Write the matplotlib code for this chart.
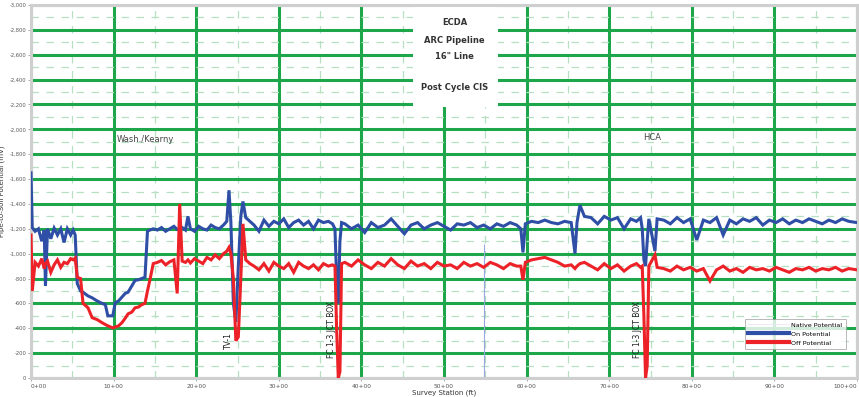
import matplotlib
matplotlib.use("Agg")
import matplotlib.pyplot as plt
from matplotlib.ticker import MultipleLocator, FuncFormatter
from matplotlib.patches import Rectangle
from matplotlib.lines import Line2D

# ---------------- data ----------------
station_ft = [
    0, 15, 50, 90, 130, 160, 175, 200, 240, 280, 320, 360, 400, 440, 480,
    510, 535, 560, 600, 630, 690, 740, 800, 860, 900, 930, 990, 1020, 1060,
    1100, 1140, 1175, 1220, 1260, 1300, 1340, 1380, 1410, 1440, 1480,
    1530, 1580, 1630, 1680, 1730, 1770, 1800, 1830, 1870, 1900, 1930, 1980,
    2030, 2080, 2130, 2180, 2230, 2280, 2330, 2370,
    2397, 2420, 2450, 2480, 2510, 2540, 2566, 2600, 2650,
    2700, 2760, 2820, 2880, 2940, 3000, 3060, 3120, 3180, 3240, 3300, 3360,
    3420, 3480, 3540, 3600, 3650,
    3680, 3700, 3720, 3740, 3760,
    3800, 3880, 3960, 4040, 4120, 4200, 4280, 4360, 4440, 4520, 4600, 4680,
    4760, 4840, 4920, 5000, 5080, 5160, 5240, 5320, 5400, 5480, 5560, 5640,
    5720, 5800, 5880,
    5930, 5956, 5985,
    6060, 6140, 6220, 6300, 6380, 6460, 6540, 6586, 6610, 6646, 6700,
    6780, 6860, 6940, 7020, 7100, 7180, 7260, 7330, 7380,
    7400, 7420, 7440, 7460, 7480, 7554, 7580,
    7660, 7740, 7820, 7900, 7980, 8060, 8140, 8220, 8300, 8380, 8460, 8540,
    8620, 8700, 8780, 8860, 8940, 9020, 9100, 9180, 9260, 9340, 9420, 9500,
    9580, 9660, 9740, 9820, 9900, 10000,
]

on_mv = [
    -1650, -1210, -1180, -1200, -1100, -1190, -740, -1200, -1120, -1205, -1150, -1200, -1090, -1200, -1150,
    -1190, -1150, -760, -700, -690, -660, -645, -620, -600, -590, -500, -500, -605, -620,
    -650, -680, -690, -740, -785, -790, -800, -810, -1180, -1190, -1200,
    -1190, -1210, -1180, -1200, -1220, -1195, -1200, -1210, -1190, -1300, -1200, -1180,
    -1220, -1200, -1190, -1230, -1210, -1200, -1230, -1260,
    -1510, -1250, -600, -450, -900, -1300, -1420, -1290, -1260,
    -1230, -1180, -1270, -1220, -1260, -1240, -1280, -1210, -1250, -1270, -1230, -1260,
    -1200, -1270, -1250, -1260, -1240,
    -1200, -800, -600, -1100, -1250,
    -1240, -1200, -1230, -1170, -1250, -1210, -1230, -1280, -1220, -1160, -1230, -1250,
    -1200, -1230, -1250, -1220, -1190, -1240, -1230, -1250, -1210, -1230, -1200, -1240,
    -1220, -1250, -1230,
    -1200, -1010, -1240,
    -1260, -1250, -1270, -1250, -1240, -1260, -1250, -1000, -1250, -1390, -1300,
    -1290, -1240, -1300, -1270, -1290, -1200, -1280, -1260, -1290,
    -1200, -950, -900, -1100, -1280, -1020, -1280,
    -1270, -1240, -1290, -1250, -1280, -1110, -1270, -1250, -1290, -1150, -1270, -1240,
    -1280, -1260, -1290, -1230, -1270, -1250, -1280, -1240, -1270, -1250, -1280, -1260,
    -1240, -1270, -1250, -1280, -1260, -1250,
]

off_mv = [
    -1150, -700, -930, -900, -960, -880, -920, -940, -850, -910, -950, -890, -930, -920, -960,
    -950, -965, -810, -800, -600, -565, -485, -470, -445, -430, -420, -403, -410, -420,
    -444, -480, -516, -530, -565, -570, -590, -600, -700, -790, -920,
    -930, -945, -910, -935, -950, -680, -1400, -940, -930, -950, -925, -960,
    -940, -920, -970, -950, -990, -960, -1000, -1020,
    -1050, -1000, -800, -300, -330, -800, -1240, -950, -920,
    -900, -870, -920, -860, -930, -900, -880, -920, -850, -930, -900, -880,
    -910, -870, -920, -900, -910,
    -900, -400, 0, -50, -920,
    -930, -900, -950, -910, -880, -930, -900, -960, -910, -880, -940, -900,
    -920, -880, -930, -900, -910, -880, -930, -900, -920, -890, -930, -910,
    -880, -920, -900,
    -900, -790, -930,
    -950, -960, -970, -950, -930, -900, -910, -880, -900, -920, -930,
    -900, -870, -920, -880, -910, -860, -900, -920, -890,
    -900, -500, 0, -100, -900, -990, -890,
    -880, -860, -900, -870, -890, -860, -880, -780, -870, -900, -860, -880,
    -850, -890, -870, -880, -860, -890, -870, -850, -880, -870, -890, -860,
    -880, -870, -890, -860, -880, -870,
]

marker_station = [5484]
marker_top_mv = [-1080]
marker_bottom_mv = [0]

station_ticks = [0, 1000, 2000, 3000, 4000, 5000, 6000, 7000, 8000, 9000, 10000]
station_labels = ["0+00", "10+00", "20+00", "30+00", "40+00", "50+00",
                  "60+00", "70+00", "80+00", "90+00", "100+00"]

title_lines = ["ECDA", "ARC Pipeline", "16\" Line", "", "Post Cycle CIS"]

# ---------------- figure ----------------
fig = plt.figure(figsize=(8.59, 3.97), dpi=100)
ax = fig.add_axes([31 / 859, 1 - 378 / 397, 826 / 859, 373 / 397])

ax.set_xlim(0, 10000)
ax.set_ylim(0, -3000)

ax.xaxis.set_major_locator(MultipleLocator(1000))
ax.xaxis.set_minor_locator(MultipleLocator(500))
ax.yaxis.set_major_locator(MultipleLocator(200))
ax.yaxis.set_minor_locator(MultipleLocator(100))
ax.set_xticks(station_ticks)
ax.set_xticklabels(station_labels)
ax.yaxis.set_major_formatter(FuncFormatter(lambda v, p: f"{int(v):,}"))
xt = ax.get_xticklabels()
xt[-1].set_ha("right")
xt[0].set_ha("left")

ax.grid(which="major", color="#1ea64b", lw=2.2, zorder=0)
ax.grid(which="minor", color="#b6e0c1", lw=0.9, linestyle=(0, (6, 6)), zorder=0)
ax.set_axisbelow(True)

ax.tick_params(which="both", labelsize=4.2, labelcolor="#555555",
               length=2, width=0.5, color="#888888", pad=2)
ax.tick_params(axis="y", labelsize=3.7, pad=1.5)
ax.tick_params(which="minor", length=0)

for s in ax.spines.values():
    s.set_color("#cfcfcf")
    s.set_linewidth(2.2)

# marker line
ax.vlines(marker_station, marker_top_mv, marker_bottom_mv,
          color="#9aa6e0", lw=0.8, zorder=2)

ax.plot(station_ft, on_mv, color="#2f4fa6", lw=2.2, zorder=3,
        solid_joinstyle="miter")
ax.plot(station_ft, off_mv, color="#ec2228", lw=2.2, zorder=4,
        solid_joinstyle="miter")

# title box
ax.add_patch(Rectangle((0.462, 0.727), 0.103, 0.28, transform=ax.transAxes,
                       facecolor="white", edgecolor="none", zorder=2.5,
                       clip_on=False))
for txt, yy in zip(title_lines, [0.954, 0.906, 0.861, 0.82, 0.780]):
    ax.text(0.513, yy, txt, transform=ax.transAxes, ha="center", va="center",
            fontsize=6, fontweight="bold", color="#333333", zorder=5)

# region annotations
ax.text((145 - 31) / 826, 1 - (139 - 5) / 373, "Wash./Kearny",
        transform=ax.transAxes, ha="center", va="center", fontsize=6,
        color="#444444", zorder=5)
ax.text((652 - 31) / 826, 1 - (137 - 5) / 373, "HCA",
        transform=ax.transAxes, ha="center", va="center", fontsize=6,
        color="#444444", zorder=5)

# feature labels (rotated)
ax.text((228 - 31) / 826, 1 - (341 - 5) / 373, "TV-1", transform=ax.transAxes,
        rotation=90, ha="center", va="center", fontsize=5.5, color="#222222",
        zorder=5)
ax.text((331 - 31) / 826, 1 - (330 - 5) / 373, "FC 1-3 JCT BOX",
        transform=ax.transAxes, rotation=90, ha="center", va="center",
        fontsize=5.5, color="#222222", zorder=5)
ax.text((637 - 31) / 826, 1 - (330 - 5) / 373, "FC 1-3 JCT BOX",
        transform=ax.transAxes, rotation=90, ha="center", va="center",
        fontsize=5.5, color="#222222", zorder=5)

ax.set_ylabel("Pipe-to-Soil Potential (mV)", fontsize=5, color="#333333")
ax.yaxis.set_label_coords((5 - 31) / 826, 0.5)
ax.set_xlabel("Survey Station (ft)", fontsize=5, color="#333333", labelpad=1)

handles = [
    Line2D([], [], color="#e6e8f5", lw=0.6),
    Line2D([], [], color="#2f4fa6", lw=3),
    Line2D([], [], color="#ec2228", lw=3),
]
leg = ax.legend(handles, ["Native Potential", "On Potential", "Off Potential"],
                loc="lower right", bbox_to_anchor=(0.99, 0.07),
                fontsize=4.6, frameon=True, fancybox=False,
                handlelength=6.5, handletextpad=0.3, borderpad=0.5,
                labelspacing=0.55)
leg.get_frame().set_edgecolor("#999999")
leg.get_frame().set_linewidth(0.6)
leg.set_zorder(6)

fig.savefig("out.png", dpi=100, facecolor="white")
